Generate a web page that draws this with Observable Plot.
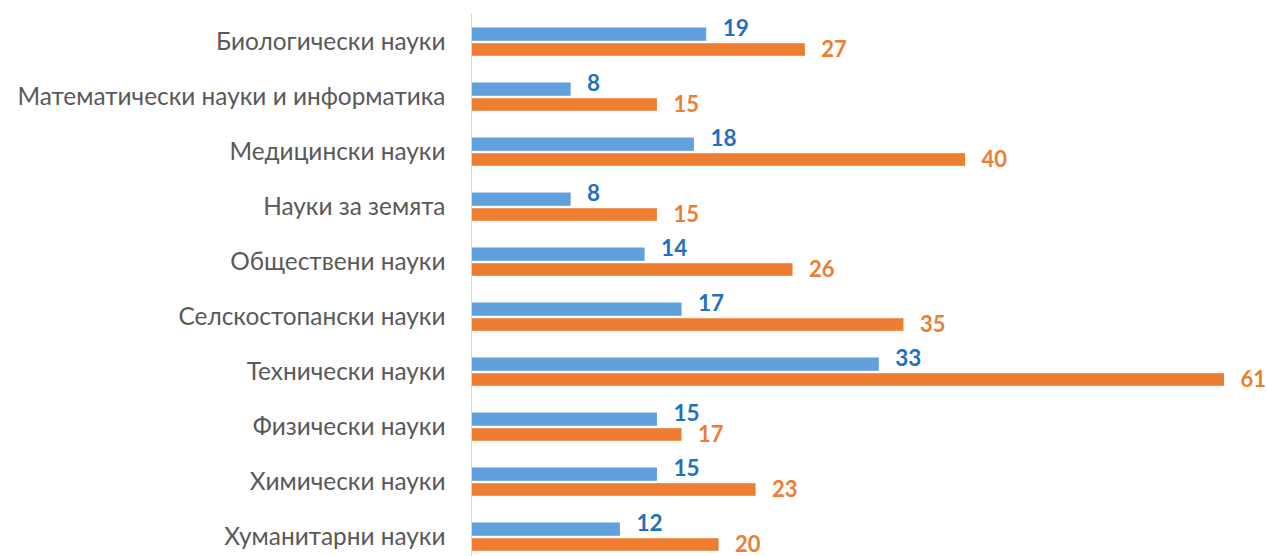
<!DOCTYPE html>
<html>
<head>
<meta charset="utf-8">
<script src="https://cdn.jsdelivr.net/npm/d3@7"></script>
<script src="https://cdn.jsdelivr.net/npm/@observablehq/plot@0.6"></script>
<style>
  html, body { margin: 0; padding: 0; background: #fff; }
  #chart svg { display: block; }
</style>
</head>
<body>
<div id="chart"></div>
<script>
const categories = [
  "Биологически науки",
  "Математически науки и информатика",
  "Медицински науки",
  "Науки за земята",
  "Обществени науки",
  "Селскостопански науки",
  "Технически науки",
  "Физически науки",
  "Химически науки",
  "Хуманитарни науки"
];
const seriesA = [19, 8, 18, 8, 14, 17, 33, 15, 15, 12];
const seriesB = [27, 15, 40, 15, 26, 35, 61, 17, 23, 20];

const rowsA = categories.map((c, i) => ({category: c, value: seriesA[i]}));
const rowsB = categories.map((c, i) => ({category: c, value: seriesB[i]}));

const blueBar = "#5fa0dd", orangeBar = "#ed7d31";
const blueText = "#1f70c1", orangeText = "#ed7d31";

const chart = Plot.plot({
  width: 1267,
  height: 556,
  marginLeft: 472,
  marginRight: 43,
  marginTop: 13.5,
  marginBottom: 0,
  style: {fontFamily: "Lato, sans-serif", background: "#fff"},
  x: {domain: [0, 61], axis: null},
  y: {domain: categories, range: [13.5, 563.5], padding: 0, axis: null},
  marks: [
    Plot.barX(rowsA, {y: "category", x: "value", fill: blueBar, insetTop: 13.5, insetBottom: 28.2}),
    Plot.barX(rowsB, {y: "category", x: "value", fill: orangeBar, insetTop: 29.2, insetBottom: 13.2}),
    Plot.ruleX([0], {stroke: "#d9d9d9", strokeWidth: 1, dx: -1}),
    Plot.text(rowsA, {y: "category", x: "value", text: "value", textAnchor: "start", dx: 16, dy: -13,
      fill: blueText, fontWeight: "bold", fontSize: 22.5}),
    Plot.text(rowsB, {y: "category", x: "value", text: "value", textAnchor: "start", dx: 16, dy: 7.5,
      fill: orangeText, fontWeight: "bold", fontSize: 22}),
    Plot.axisY({tickSize: 0, tickPadding: 27, fontSize: 24.4, color: "#595959", anchor: "left", label: null})
  ]
});
document.getElementById("chart").appendChild(chart);
</script>
</body>
</html>
